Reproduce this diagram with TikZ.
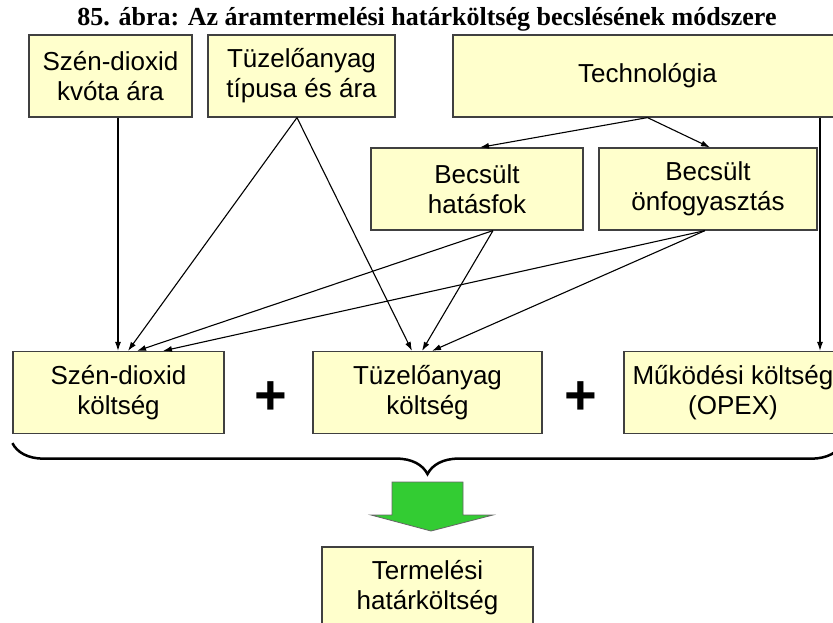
\documentclass[tikz,border=0pt]{standalone}
\usepackage{fontspec}
\setmainfont{Liberation Serif}
\setsansfont{Liberation Sans}
\usetikzlibrary{arrows.meta,decorations.pathreplacing}

\definecolor{boxfill}{HTML}{FFFFCC}
\definecolor{boxline}{HTML}{404040}
\definecolor{arrowgreen}{HTML}{33CC33}

\tikzset{
    box/.style={draw=boxline, fill=boxfill, line width=1.2pt, minimum height=82pt,
        inner sep=0pt, align=center, font=\sffamily\fontsize{26}{30}\selectfont},
    feed/.style={-{Latex[length=9pt,width=6pt]}, line width=1.1pt},
    plus/.style={inner sep=0pt, font=\sffamily\bfseries\fontsize{56}{56}\selectfont},
}

\begin{document}
\begin{tikzpicture}[x=1pt, y=-1pt]
    \useasboundingbox (0,0) rectangle (833,622);
    \clip (0,0) rectangle (833,622);

    \node[font=\bfseries\fontsize{26}{30}\selectfont] (title) at (427,19)
        {85. ábra: Az áramtermelési határköltség becslésének módszere};

% name/x/y/width/text
\foreach \name/\x/\y/\w/\txt in {
    kvota/110.5/76/163/{Szén-dioxid\\kvóta ára},
    tipus/301.5/76/187/{Tüzelőanyag\\típusa és ára},
    techn/647.5/76/389/{Technológia},
    hatas/477/189/212/{Becsült\\hatásfok},
    onfogy/708/189/218/{Becsült\\önfogyasztás},
    cokolts/118.5/392.5/211/{Szén-dioxid\\költség},
    tuzkolts/427.5/392.5/229/{Tüzelőanyag\\költség},
    opex/733/392.5/218/{Működési költség\\(OPEX)},
    hatar/427.5/588/211/{Termelési\\határköltség}}{
    \node[box, minimum width=\w pt] (\name) at (\x,\y) {\txt};
}

    \node[plus] (plusa) at (271,398) {+};
    \node[plus] (plusb) at (581,398) {+};

    % inputs
    \draw[feed] ([xshift=7.5pt]kvota.south) -- ([xshift=-0.5pt]cokolts.north);
    \draw[feed] ([xshift=-4.5pt]tipus.south) -- ([xshift=9.5pt]cokolts.north);
    \draw[feed] ([xshift=-4.5pt]tipus.south) -- ([xshift=-15.5pt]tuzkolts.north);
    \draw[feed] (techn.south) -- ([xshift=3pt]hatas.north);
    \draw[feed] (techn.south) -- ([xshift=2pt]onfogy.north);
    \draw[feed] ([xshift=172.5pt]techn.south) -- ([xshift=87pt]opex.north);

    % estimates
    \draw[feed] ([xshift=16pt]hatas.south) -- ([xshift=18.5pt]cokolts.north);
    \draw[feed] ([xshift=16pt]hatas.south) -- ([xshift=-5.5pt]tuzkolts.north);
    \draw[feed] ([xshift=-3pt]onfogy.south) -- ([xshift=44.5pt]cokolts.north);
    \draw[feed] ([xshift=-3pt]onfogy.south) -- ([xshift=4.5pt]tuzkolts.north);

    % sum
    \draw[line width=2.5pt, decorate, decoration={brace, mirror, amplitude=31pt}]
        ([yshift=-9pt]cokolts.south west) -- ([yshift=-9pt]opex.south east);
    \filldraw[fill=arrowgreen, draw=black!60, line width=0.8pt]
        (392,482) -- (463,482) -- (463,515) -- (493,515) -- (431,531)
        -- (371,515) -- (392,515) -- cycle;
\end{tikzpicture}
\end{document}
